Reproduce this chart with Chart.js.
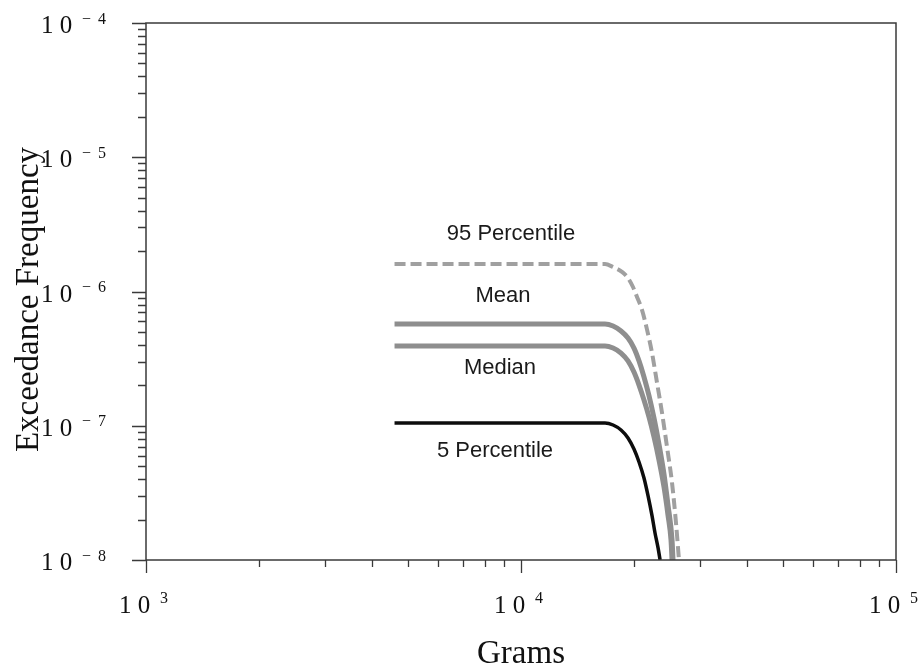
<!DOCTYPE html>
<html>
<head>
<meta charset="utf-8">
<script src="https://cdn.jsdelivr.net/npm/chart.js@4/dist/chart.umd.min.js"></script>
<style>
  html, body { margin: 0; padding: 0; background: #fff; }
  #wrap { width: 919px; height: 667px; }
</style>
</head>
<body>
<div id="wrap"><canvas id="c" width="919" height="667"></canvas></div>
<script>
// ---- data ----
const grams95 = [4600, 16750, 17600, 18590, 19290, 19890, 20390, 21020, 21680, 22360, 23060, 23770, 24510, 25280, 25900, 26380];
const freq95  = [1.60e-6, 1.60e-6, 1.52e-6, 1.40e-6, 1.26e-6, 1.08e-6, 9.1e-7, 7.3e-7, 5.2e-7, 3.48e-7, 2.08e-7, 1.25e-7, 6.95e-8, 3.75e-8, 1.89e-8, 1.0e-8];

const gramsMean = [4600, 16750, 17600, 18480, 19290, 20010, 20640, 21280, 21950, 22630, 23330, 24060, 24660, 25280, 25430];
const freqMean  = [5.73e-7, 5.73e-7, 5.53e-7, 5.08e-7, 4.50e-7, 3.79e-7, 3.04e-7, 2.31e-7, 1.67e-7, 1.14e-7, 7.3e-8, 4.37e-8, 2.57e-8, 1.41e-8, 1.0e-8];

const gramsMedian = [4600, 16750, 17600, 18480, 19290, 20010, 20640, 21280, 21950, 22630, 23330, 24060, 24660, 25120, 25280];
const freqMedian  = [3.93e-7, 3.93e-7, 3.79e-7, 3.48e-7, 3.04e-7, 2.51e-7, 2.01e-7, 1.555e-7, 1.16e-7, 8.25e-8, 5.56e-8, 3.5e-8, 2.16e-8, 1.41e-8, 1.0e-8];

const grams5 = [4600, 16750, 17600, 18480, 19290, 20010, 20640, 21280, 21820, 22360, 22770, 23200, 23490];
const freq5  = [1.048e-7, 1.048e-7, 1.013e-7, 9.3e-8, 8.11e-8, 6.71e-8, 5.37e-8, 4.08e-8, 3.0e-8, 2.13e-8, 1.59e-8, 1.23e-8, 1.0e-8];

const seriesNames = ['95 Percentile', 'Mean', 'Median', '5 Percentile'];
const xTickExps = [3, 4, 5];
const yTickExps = [-4, -5, -6, -7, -8];
const xTitle = 'Grams';
const yTitle = 'Exceedance Frequency';

// ---- build datasets ----
function pts(xs, ys) { return xs.map((x, i) => ({ x: x, y: ys[i] })); }

const labelPlugin = {
  id: 'decor',
  afterDraw(chart) {
    const ctx = chart.ctx;
    const a = chart.chartArea;
    const xs = chart.scales.x, ys = chart.scales.y;
    ctx.save();
    ctx.strokeStyle = '#3a3a3a';
    ctx.lineWidth = 1.5;
    ctx.strokeRect(a.left, a.top, a.right - a.left, a.bottom - a.top);

    // x ticks
    ctx.lineWidth = 1.3;
    ctx.beginPath();
    for (let e = 3; e <= 4; e++) {
      for (let m = 1; m <= 9; m++) {
        const px = Math.round(xs.getPixelForValue(m * Math.pow(10, e))) + 0.5;
        const len = m === 1 ? 13 : 7;
        ctx.moveTo(px, a.bottom); ctx.lineTo(px, a.bottom + len);
      }
    }
    { const px = Math.round(xs.getPixelForValue(1e5)) + 0.5; ctx.moveTo(px, a.bottom); ctx.lineTo(px, a.bottom + 13); }
    // y ticks
    for (let e = -8; e <= -5; e++) {
      for (let m = 1; m <= 9; m++) {
        const py = Math.round(ys.getPixelForValue(m * Math.pow(10, e))) + 0.5;
        const len = m === 1 ? 14 : 8;
        ctx.moveTo(a.left, py); ctx.lineTo(a.left - len, py);
      }
    }
    { const py = Math.round(ys.getPixelForValue(1e-4)) + 0.5; ctx.moveTo(a.left, py); ctx.lineTo(a.left - 14, py); }
    ctx.stroke();

    // tick labels
    ctx.fillStyle = '#111';
    ctx.textAlign = 'left';
    ctx.textBaseline = 'alphabetic';
    const baseFont = '25px "Liberation Serif", "Times New Roman", serif';
    const supFont = '16px "Liberation Serif", "Times New Roman", serif';
    xTickExps.forEach(e => {
      const px = xs.getPixelForValue(Math.pow(10, e));
      ctx.font = baseFont;
      ctx.fillText('1 0', px - 27, a.bottom + 53);
      ctx.font = supFont;
      ctx.fillText(String(e), px + 14, a.bottom + 43);
    });
    yTickExps.forEach(e => {
      const py = ys.getPixelForValue(Math.pow(10, e));
      ctx.font = baseFont;
      ctx.fillText('1 0', 41, py + 10);
      ctx.font = supFont;
      ctx.fillText('\u2212', 82, py + 0.5);
      ctx.fillText(String(-e), 98, py + 0.5);
    });

    // axis titles
    ctx.font = '33px "Liberation Serif", "Times New Roman", serif';
    ctx.textAlign = 'center';
    ctx.fillText(xTitle, (a.left + a.right) / 2, 663);
    ctx.save();
    ctx.translate(38, (a.top + a.bottom) / 2 + 8);
    ctx.rotate(-Math.PI / 2);
    ctx.fillText(yTitle, 0, 0);
    ctx.restore();

    // series labels
    ctx.font = '22px "Liberation Sans", Arial, sans-serif';
    ctx.fillStyle = '#1a1a1a';
    ctx.textBaseline = 'middle';
    const labelPos = [[511, 234], [503, 296], [500, 368], [495, 451]];
    seriesNames.forEach((n, i) => ctx.fillText(n, labelPos[i][0], labelPos[i][1]));
    ctx.restore();
  }
};

new Chart(document.getElementById('c'), {
  type: 'scatter',
  data: {
    datasets: [
      { label: seriesNames[0], data: pts(grams95, freq95), showLine: true, borderColor: '#a0a0a0', borderWidth: 4, borderDash: [11, 5], pointRadius: 0, cubicInterpolationMode: 'monotone', fill: false },
      { label: seriesNames[1], data: pts(gramsMean, freqMean), showLine: true, borderColor: '#8e8e8e', borderWidth: 5, pointRadius: 0, cubicInterpolationMode: 'monotone', fill: false },
      { label: seriesNames[2], data: pts(gramsMedian, freqMedian), showLine: true, borderColor: '#8e8e8e', borderWidth: 5, pointRadius: 0, cubicInterpolationMode: 'monotone', fill: false },
      { label: seriesNames[3], data: pts(grams5, freq5), showLine: true, borderColor: '#0d0d0d', borderWidth: 3.5, pointRadius: 0, cubicInterpolationMode: 'monotone', fill: false }
    ]
  },
  options: {
    responsive: false,
    animation: false,
    devicePixelRatio: 1,
    layout: { padding: { left: 0, right: 23, top: 23, bottom: 0 } },
    plugins: { legend: { display: false }, tooltip: { enabled: false }, title: { display: false } },
    scales: {
      x: {
        type: 'logarithmic', min: 1000, max: 100000,
        ticks: { display: false }, grid: { display: false }, border: { display: false },
        afterFit: s => { s.height = 107; }
      },
      y: {
        type: 'logarithmic', min: 1e-8, max: 1e-4,
        ticks: { display: false }, grid: { display: false }, border: { display: false },
        afterFit: s => { s.width = 146; }
      }
    }
  },
  plugins: [labelPlugin]
});
</script>
</body>
</html>
